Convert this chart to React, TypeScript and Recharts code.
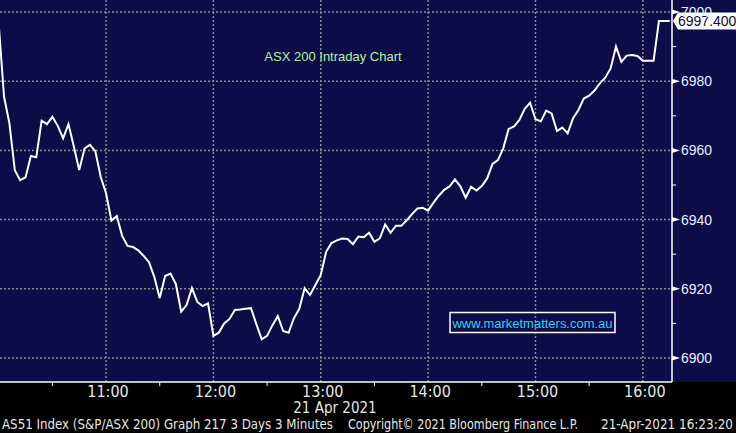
// ASX 200 intraday chart (Bloomberg style) using Recharts

import { LineChart, Line, XAxis, YAxis, ReferenceLine, CartesianGrid } from 'recharts';

const NAVY = '#0d0b48';
const GRID = '#8c8c8c';
const NARROW = '"Liberation Sans Narrow", "DejaVu Sans Condensed", "Liberation Sans", sans-serif';
const SANS = '"Liberation Sans", Arial, sans-serif';

// 3-minute bars from 10:00, minutes after 10:00
const START_MIN = 0;
const STEP_MIN = 3;

const closes = [
  6996.5, 6975.5, 6967.8, 6954.3, 6951.4, 6952.2, 6958.4, 6958.0, 6968.6, 6967.6,
  6969.7, 6967.1, 6963.5, 6967.6, 6961.1, 6954.3, 6960.6, 6961.6, 6959.8, 6952.4,
  6947.6, 6939.7, 6941.0, 6935.3, 6932.4, 6932.1, 6931.1, 6929.5, 6927.7, 6923.4,
  6917.3, 6923.7, 6924.4, 6921.4, 6913.4, 6915.3, 6920.2, 6916.2, 6915.0, 6915.8,
  6906.4, 6907.3, 6910.0, 6911.3, 6913.9, 6914.0, 6914.2, 6914.4, 6909.8, 6905.4,
  6906.4, 6909.5, 6912.1, 6907.8, 6907.3, 6911.5, 6914.2, 6920.2, 6918.2, 6921.1,
  6924.0, 6930.7, 6933.2, 6934.0, 6934.5, 6934.4, 6932.9, 6935.1, 6934.9, 6936.2,
  6933.6, 6934.6, 6938.6, 6936.2, 6938.2, 6938.2, 6939.8, 6941.6, 6943.2, 6943.4,
  6942.6, 6944.9, 6946.9, 6948.6, 6949.6, 6951.6, 6949.6, 6946.3, 6949.5, 6948.4,
  6949.7, 6951.9, 6956.1, 6957.2, 6960.6, 6966.2, 6966.9, 6968.8, 6972.0, 6973.8,
  6969.0, 6968.4, 6971.5, 6970.7, 6965.6, 6966.6, 6964.9, 6969.3, 6971.7, 6975.0,
  6975.8, 6977.3, 6979.4, 6981.0, 6983.7, 6990.0, 6985.6, 6987.4, 6987.6, 6987.3,
  6985.9, 6985.9, 6985.9, 6997.4, 6997.4, 6997.4,
];

const timeTicks = [30, 60, 90, 120, 150, 180, 210, 240, 270, 300, 330, 360];
const hourLines = [60, 120, 180, 240, 300, 360];
const priceTicks = [6900, 6910, 6920, 6930, 6940, 6950, 6960, 6970, 6980, 6990, 7000];
const priceLines = [6900, 6920, 6940, 6960, 6980, 7000];
const lastPrice = 6997.4;

const data = closes.map((v, i) => ({ t: START_MIN + i * STEP_MIN, v }));

function TimeTick(props: any) {
  const { x, y, payload } = props;
  const m = payload.value as number;
  if (m % 60 !== 0) {
    return <line x1={x} x2={x} y1={y} y2={y + 4} stroke="#ffffff" strokeWidth={1} />;
  }
  const label = `${10 + m / 60}:00`;
  return (
    <text x={x + 2} y={y + 15} textAnchor="middle" fill="#e6e6e6" fontFamily={NARROW} fontSize={16}>
      {label}
    </text>
  );
}

function PriceTick(props: any) {
  const { x, y, payload } = props;
  const v = payload.value as number;
  if (v % 20 !== 0) {
    return <line x1={x} x2={x + 4} y1={y} y2={y} stroke="#ffffff" strokeWidth={1} />;
  }
  return (
    <g>
      <polygon points={`${x},${y - 2.5} ${x + 8},${y} ${x},${y + 2.5}`} fill="#ffffff" />
      <text x={x + 9} y={y + 5} fill="#e8eeff" fontFamily={SANS} fontSize={14}>
        {v}
      </text>
    </g>
  );
}

function PriceTag(props: any) {
  const { viewBox } = props;
  const x = viewBox.x + viewBox.width + 1;
  const y = viewBox.y;
  return (
    <g>
      <polygon
        points={`${x},${y} ${x + 5},${y - 8.5} ${x + 63},${y - 8.5} ${x + 63},${y + 8.5} ${x + 5},${y + 8.5}`}
        fill="#ffffff"
      />
      <text x={x + 5} y={y + 5} fill="#0d0b30" fontFamily={SANS} fontSize={14}>
        {lastPrice.toFixed(3)}
      </text>
    </g>
  );
}

export default function App() {
  return (
    <div style={{ position: 'absolute', left: 0, top: 0, width: 736, height: 433, background: '#000' }}>
      <div style={{ position: 'absolute', left: 0, top: 0, width: 736, height: 382, background: NAVY }} />
      <div style={{ position: 'absolute', left: 0, top: 0 }}>
        <LineChart width={736} height={433} data={data} margin={{ top: 0, right: 0, bottom: 0, left: 0 }}>
          <CartesianGrid
            stroke={GRID}
            strokeWidth={1.5}
            strokeDasharray="2 2"
            horizontalValues={priceLines}
            verticalValues={hourLines}
          />
          <XAxis
            dataKey="t"
            type="number"
            domain={[0.73, 376.3]}
            allowDataOverflow
            ticks={timeTicks}
            interval={0}
            height={51}
            tickSize={0}
            tickMargin={0}
            tickLine={false}
            axisLine={{ stroke: '#ffffff', strokeWidth: 1.5 }}
            tick={<TimeTick />}
          />
          <YAxis
            orientation="right"
            type="number"
            domain={[6893.06, 7003.47]}
            allowDataOverflow
            ticks={priceTicks}
            interval={0}
            width={64}
            tickSize={0}
            tickMargin={0}
            tickLine={false}
            axisLine={{ stroke: '#ffffff', strokeWidth: 1.5 }}
            tick={<PriceTick />}
          />
          <Line
            type="linear"
            dataKey="v"
            stroke="#ffffff"
            strokeWidth={2}
            dot={false}
            isAnimationActive={false}
          />
          <ReferenceLine y={lastPrice} stroke="none" label={<PriceTag />} />
        </LineChart>
      </div>
      <svg width={736} height={433} style={{ position: 'absolute', left: 0, top: 0, pointerEvents: 'none' }}>
        <text x={333} y={61} textAnchor="middle" fill="#b4f0a0" fontFamily={SANS} fontSize={13}>
          ASX 200 Intraday Chart
        </text>
        <rect x={450} y={312.5} width={165} height={20} fill="none" stroke="#ffffff" strokeWidth={1.5} />
        <text x={452.5} y={327.5} fill="#22d8ee" fontFamily={SANS} fontSize={13} textLength={160} lengthAdjust="spacingAndGlyphs">
          www.marketmatters.com.au
        </text>
        <text x={335} y={413} textAnchor="middle" fill="#e6e6e6" fontFamily={NARROW} fontSize={15}>
          21 Apr 2021
        </text>
        <text x={2} y={429} fill="#e6e6e6" fontFamily={NARROW} fontSize={14} textLength={331} lengthAdjust="spacingAndGlyphs">
          AS51 Index (S&amp;P/ASX 200) Graph 217 3 Days 3 Minutes
        </text>
        <text x={348} y={429} fill="#e6e6e6" fontFamily={NARROW} fontSize={14} textLength={230} lengthAdjust="spacingAndGlyphs">
          Copyright© 2021 Bloomberg Finance L.P.
        </text>
        <text x={601} y={429} fill="#e6e6e6" fontFamily={NARROW} fontSize={14} textLength={132} lengthAdjust="spacingAndGlyphs">
          21-Apr-2021 16:23:20
        </text>
      </svg>
    </div>
  );
}
